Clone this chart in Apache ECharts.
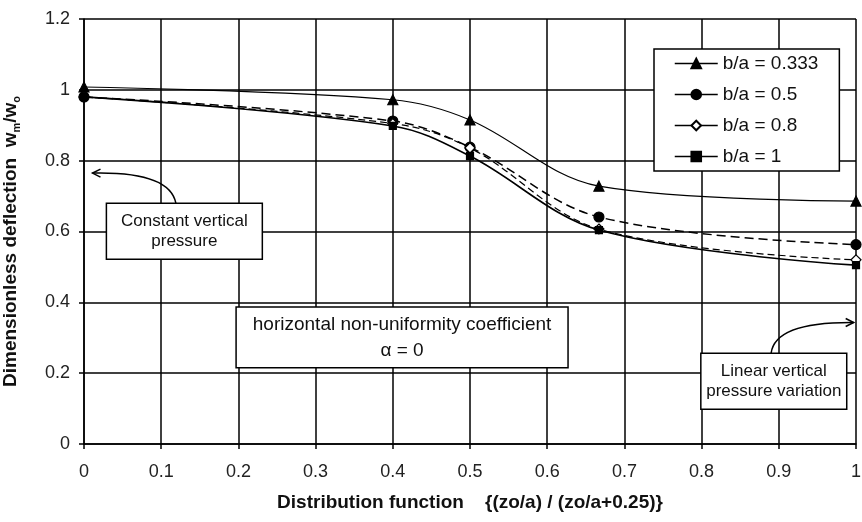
<!DOCTYPE html>
<html><head><meta charset="utf-8">
<script src="https://cdn.jsdelivr.net/npm/echarts@6/dist/echarts.min.js"></script>
<style>html,body{margin:0;padding:0;background:#fff}#c{width:862px;height:522px}</style>
</head><body><div id="c"></div>
<script>
const xValues = [0, 0.4, 0.5, 0.667, 1];
const seriesNames = ['b/a = 0.333', 'b/a = 0.5', 'b/a = 0.8', 'b/a = 1'];
const ba0333 = [1.008, 0.972, 0.915, 0.728, 0.686];
const ba05 = [0.980, 0.912, 0.838, 0.641, 0.563];
const ba08 = [0.980, 0.905, 0.836, 0.607, 0.520];
const ba1 = [0.980, 0.898, 0.813, 0.604, 0.505];
const xTicks = [0, 0.1, 0.2, 0.3, 0.4, 0.5, 0.6, 0.7, 0.8, 0.9, 1];
const yTicks = [0, 0.2, 0.4, 0.6, 0.8, 1, 1.2];

const FONT = '"Liberation Sans", Arial, sans-serif';
const pair = v => xValues.map((x, i) => [x, v[i]]);

const chart = echarts.init(document.getElementById('c'));
const styles = [
  {symbol: 'triangle', size: 10, fill: '#000', type: 'solid', w: 1.2},
  {symbol: 'circle', size: 10, fill: '#000', type: [9, 5], w: 1.5},
  {symbol: 'diamond', size: 10, fill: '#fff', type: [7, 4], w: 1.2},
  {symbol: 'rect', size: 7, fill: '#000', type: 'solid', w: 1.6}
];
const allData = [ba0333, ba05, ba08, ba1];

chart.setOption({
  animation: false,
  backgroundColor: '#fff',
  grid: {left: 84, right: 6, top: 19, bottom: 78, outerBoundsMode: 'none', containLabel: false},
  xAxis: {
    type: 'value', min: 0, max: 1, interval: 0.1,
    axisLine: {lineStyle: {color: '#000', width: 1.5}},
    axisTick: {show: true, length: 5, lineStyle: {color: '#000', width: 1.5}},
    splitLine: {show: true, lineStyle: {color: '#000', width: 1.5}},
    axisLabel: {color: '#222', fontFamily: FONT, fontSize: 18, margin: 19,
      formatter: v => { const t = xTicks.find(k => Math.abs(k - v) < 1e-6); return t === undefined ? '' : String(t); }},
    name: 'Distribution function    {(zo/a) / (zo/a+0.25)}',
    nameLocation: 'middle', nameGap: 59,
    nameTextStyle: {color: '#111', fontFamily: FONT, fontSize: 19, fontWeight: 'bold', verticalAlign: 'middle'}
  },
  yAxis: {
    type: 'value', min: 0, max: 1.2, interval: 0.2,
    axisLine: {show: true, lineStyle: {color: '#000', width: 1.5}},
    axisTick: {show: true, length: 5, lineStyle: {color: '#000', width: 1.5}},
    splitLine: {show: true, lineStyle: {color: '#000', width: 1.5}},
    axisLabel: {color: '#222', fontFamily: FONT, fontSize: 18, margin: 14,
      formatter: v => { const t = yTicks.find(k => Math.abs(k - v) < 1e-6); return t === undefined ? '' : String(t); }},
    name: '{b|Dimensionless deflection  w}{s|m}{b|/w}{s|o}',
    nameLocation: 'middle', nameGap: 62,
    nameTextStyle: {
      padding: [0, 20, 0, 0],
      rich: {
        b: {color: '#111', fontFamily: FONT, fontSize: 19, fontWeight: 'bold', lineHeight: 22},
        s: {color: '#111', fontFamily: FONT, fontSize: 11, fontWeight: 'bold', verticalAlign: 'bottom', lineHeight: 14}
      }
    }
  },
  legend: {
    orient: 'vertical', left: 654, top: 49,
    padding: [5, 21, 5, 20], itemGap: 12, itemWidth: 43, itemHeight: 12,
    backgroundColor: '#fff', borderColor: '#000', borderWidth: 1.5,
    textStyle: {color: '#111', fontFamily: FONT, fontSize: 19},
    data: seriesNames.map((n, i) => ({name: n, lineStyle: {type: 'solid', width: 1.5, color: '#000'}}))
  },
  series: seriesNames.map((n, i) => ({
    name: n, type: 'line', smooth: 0.35,
    data: pair(allData[i]),
    symbol: styles[i].symbol, symbolSize: styles[i].size, showAllSymbol: true,
    itemStyle: {color: styles[i].fill, borderColor: '#000', borderWidth: 1.2},
    lineStyle: {color: '#000', width: styles[i].w, type: styles[i].type},
    z: 3 + i
  }))
});

// annotations, positioned in data coordinates
function px(x, y) { return chart.convertToPixel({gridIndex: 0}, [x, y]); }
function box(x0, y0, x1, y1, lines, fs, lh) {
  const a = px(x0, y0), b = px(x1, y1);
  const w = b[0] - a[0], h = b[1] - a[1];
  return [
    {type: 'rect', shape: {x: a[0], y: a[1], width: w, height: h}, style: {fill: '#fff', stroke: '#000', lineWidth: 1.5}, z: 20},
    {type: 'text', x: a[0] + w / 2, y: a[1] + h / 2, z: 21,
      style: {text: lines.join('\n'), fill: '#111', font: fs + 'px ' + FONT, align: 'center', verticalAlign: 'middle', lineHeight: lh}}
  ];
}
function arrow(s, c, e, dir) {
  const p0 = px(s[0], s[1]), pc = px(c[0], c[1]), p1 = px(e[0], e[1]);
  const d = dir === 'left' ? 8 : -8;
  return [
    {type: 'bezierCurve', shape: {x1: p0[0], y1: p0[1], cpx1: pc[0], cpy1: pc[1], x2: p1[0], y2: p1[1]}, style: {stroke: '#000', lineWidth: 1.5, fill: null}, z: 19},
    {type: 'polyline', shape: {points: [[p1[0] + d, p1[1] - 4], [p1[0], p1[1]], [p1[0] + d, p1[1] + 4]]}, style: {stroke: '#000', lineWidth: 1.5, fill: null}, z: 19}
  ];
}
const g = [].concat(
  box(0.029, 0.680, 0.231, 0.522, ['Constant vertical', 'pressure'], 17, 20),
  arrow([0.119, 0.680], [0.111, 0.770], [0.011, 0.765], 'left'),
  box(0.197, 0.387, 0.627, 0.215, ['horizontal non-uniformity coefficient', '\u03b1 = 0'], 19, 26),
  box(0.799, 0.256, 0.988, 0.098, ['Linear vertical', 'pressure variation'], 17, 20),
  arrow([0.890, 0.256], [0.895, 0.345], [0.997, 0.343], 'right')
);
chart.setOption({graphic: {elements: g}});
</script></body></html>
